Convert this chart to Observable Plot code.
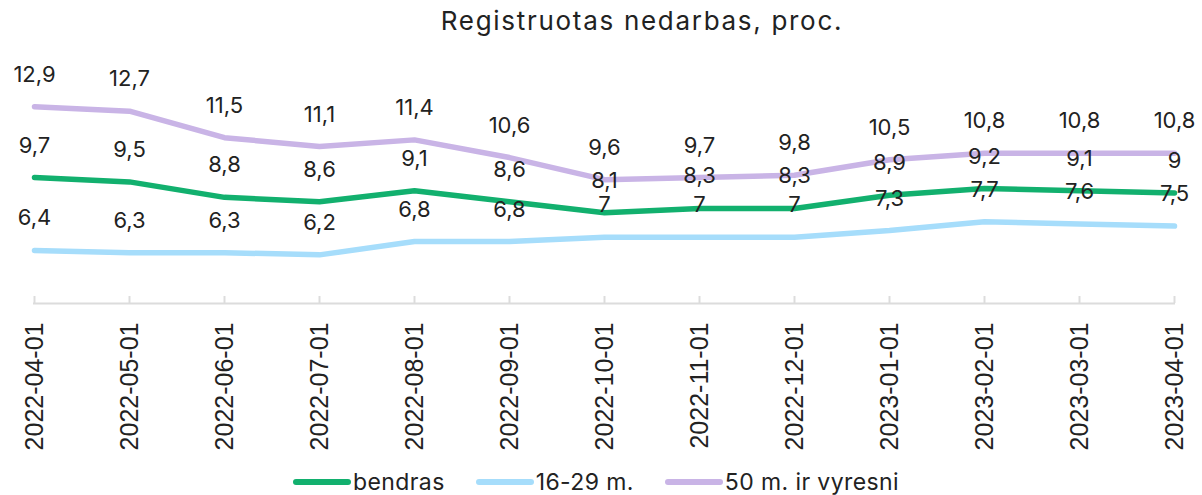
<!DOCTYPE html>
<html>
<head>
<meta charset="utf-8">
<script src="https://cdn.jsdelivr.net/npm/d3@7"></script>
<script src="https://cdn.jsdelivr.net/npm/@observablehq/plot@0.6"></script>
<style>
  body { margin: 0; background: #fff; width: 1202px; overflow: hidden; font-family: Inter, "Noto Sans", sans-serif; color: #222; }
  #title { height: 55px; box-sizing: border-box; padding-top: 5px; padding-left: 82px; text-align: center; font-size: 26px; letter-spacing: 1.7px; color: #222; white-space: nowrap; }
  #legend { height: 35px; display: flex; justify-content: center; align-items: center; gap: 31px; font-size: 23px; letter-spacing: 0.4px; color: #222; box-sizing: border-box; padding-top: 8px; margin-left: -10px; white-space: nowrap; }
  .item { display: flex; align-items: center; gap: 2px; }
</style>
</head>
<body>
<div id="title">Registruotas nedarbas, proc.</div>
<div id="chart"></div>
<div id="legend"></div>
<script>
const dates = ["2022-04-01","2022-05-01","2022-06-01","2022-07-01","2022-08-01","2022-09-01","2022-10-01","2022-11-01","2022-12-01","2023-01-01","2023-02-01","2023-03-01","2023-04-01"];
const seriesNames = ["bendras", "16-29 m.", "50 m. ir vyresni"];
const bendras = [9.7, 9.5, 8.8, 8.6, 9.1, 8.6, 8.1, 8.3, 8.3, 8.9, 9.2, 9.1, 9.0];
const jauni = [6.4, 6.3, 6.3, 6.2, 6.8, 6.8, 7.0, 7.0, 7.0, 7.3, 7.7, 7.6, 7.5];
const vyresni = [12.9, 12.7, 11.5, 11.1, 11.4, 10.6, 9.6, 9.7, 9.8, 10.5, 10.8, 10.8, 10.8];
const colors = ["#12b06e", "#a6ddfb", "#c9b4e6"];

const valuesBySeries = [bendras, jauni, vyresni];
const data = [];
valuesBySeries.forEach((vals, si) => vals.forEach((v, i) => data.push({date: dates[i], value: v, series: seriesNames[si]})));

const fmt = v => String(v).replace(".", ",");

const chart = Plot.plot({
  width: 1202,
  height: 405,
  marginLeft: 33,
  marginRight: 27,
  marginTop: 49,
  marginBottom: 157,
  style: {fontFamily: "Inter, 'Noto Sans', sans-serif", color: "#222", background: "#fff"},
  x: {type: "point", domain: dates, padding: 0, label: null},
  y: {domain: [4, 13], axis: null},
  color: {domain: seriesNames, range: colors},
  marks: [
    Plot.ruleY([4], {stroke: "#dcdcdc", strokeWidth: 2}),
    Plot.axisX({tickSize: -7, tickFormat: () => "", stroke: "#dcdcdc", strokeWidth: 2, label: null}),
    Plot.axisX({tickSize: 0, tickPadding: 19, tickRotate: -90, fontSize: 25, fontFamily: "'Liberation Sans', Arial, sans-serif", fill: "#222", label: null}),
    Plot.line(data, {x: "date", y: "value", z: "series", stroke: "series", strokeWidth: 5.5, strokeLinejoin: "round", strokeLinecap: "round"}),
    Plot.text(data, {x: "date", y: "value", text: d => fmt(d.value), dy: -32, fontSize: 22, letterSpacing: 0.5, fill: "#222"})
  ]
});
document.getElementById("chart").appendChild(chart);

const legend = document.getElementById("legend");
seriesNames.forEach((name, i) => {
  const item = document.createElement("div");
  item.className = "item";
  item.innerHTML = `<svg width="58" height="10"><line x1="3" y1="5" x2="55" y2="5" stroke="${colors[i]}" stroke-width="6" stroke-linecap="round"/></svg><span>${name}</span>`;
  legend.appendChild(item);
});
</script>
</body>
</html>
